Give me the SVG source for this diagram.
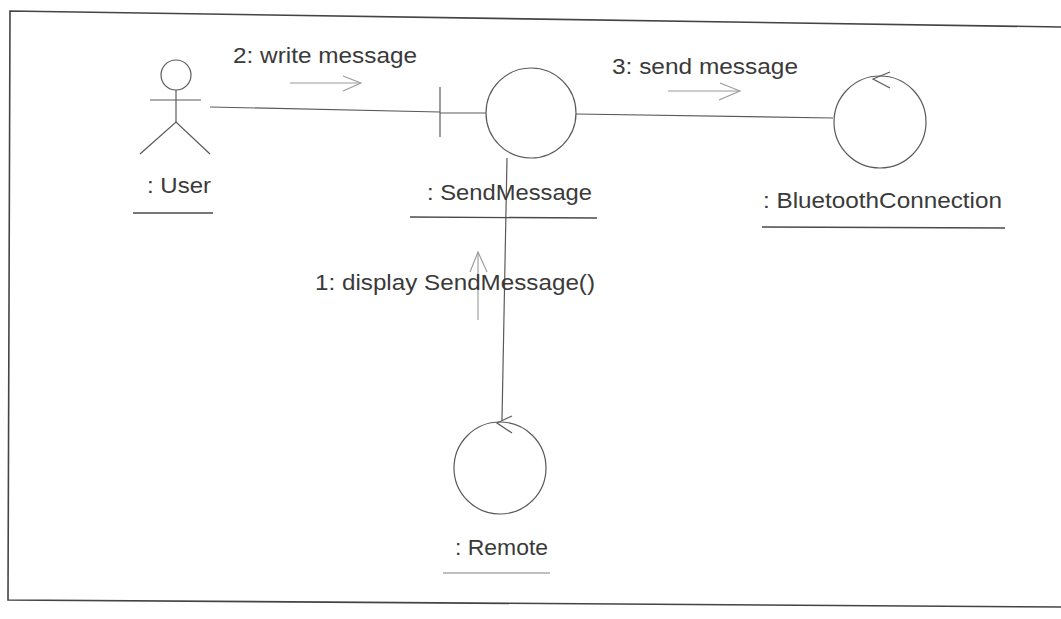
<svg xmlns="http://www.w3.org/2000/svg" width="1061" height="619" viewBox="0 0 1061 619">
<style>
.ln{fill:none;stroke:#5a5a5a;stroke-width:1.2}
.fr{fill:none;stroke:#444;stroke-width:1.6}
.msg{fill:none;stroke:#999;stroke-width:1.1}
.t{font-family:"Liberation Sans",Arial,sans-serif;font-size:22px;fill:#3a3a3a}
.ul{stroke:#4a4a4a;stroke-width:1.3}
</style>
<rect width="1061" height="619" fill="#fff"/>
<g id="frame">
<polyline class="fr" points="1061,27 10,11 8,600 1061,607"/>
</g>
<g id="connectors">
<line class="ln" x1="210" y1="107" x2="440" y2="112"/>
<line class="ln" x1="576" y1="114" x2="833" y2="118"/>
<line class="ln" x1="507" y1="158" x2="502" y2="420"/>
<g id="msg2">
<line class="msg" x1="290" y1="83" x2="360" y2="83"/>
<polyline class="msg" points="343,76 361,83 343,91"/>
<text class="t" x="233" y="63" textLength="184" lengthAdjust="spacingAndGlyphs" fill="#4a4a4a">2: write message</text>
</g>
<g id="msg3">
<line class="msg" x1="668" y1="91" x2="740" y2="91"/>
<polyline class="msg" points="720,83 740,91 719,100"/>
<text class="t" x="612" y="74" textLength="186" lengthAdjust="spacingAndGlyphs" fill="#4a4a4a">3: send message</text>
</g>
<g id="msg1">
<line class="msg" x1="478" y1="320" x2="478" y2="252"/>
<polyline class="msg" points="470,272 478,252 487,272"/>
<text class="t" x="315" y="290" textLength="280" lengthAdjust="spacingAndGlyphs">1: display SendMessage()</text>
</g>
</g>
<g id="user">
<circle class="ln" cx="176" cy="75" r="15"/>
<line class="ln" x1="150" y1="100" x2="201" y2="100"/>
<line class="ln" x1="176" y1="90" x2="176" y2="122"/>
<polyline class="ln" points="140,154 176,122 210,154"/>
<text class="t" x="147" y="193" textLength="64" lengthAdjust="spacingAndGlyphs">: User</text>
<line class="ul" x1="133" y1="213" x2="213" y2="213"/>
</g>
<g id="sendmessage">
<line class="ln" x1="440" y1="87" x2="440" y2="137"/>
<line class="ln" x1="440" y1="113" x2="486" y2="113"/>
<circle class="ln" cx="531" cy="113" r="45"/>
<text class="t" x="427" y="200" textLength="165" lengthAdjust="spacingAndGlyphs">: SendMessage</text>
<line class="ul" x1="410" y1="217" x2="597" y2="218"/>
</g>
<g id="bluetooth">
<circle class="ln" cx="880" cy="122" r="46"/>
<polyline class="ln" points="890,72 873,79 890,88"/>
<text class="t" x="763" y="208" textLength="239" lengthAdjust="spacingAndGlyphs">: BluetoothConnection</text>
<line class="ul" x1="762" y1="227" x2="1005" y2="228"/>
</g>
<g id="remote">
<circle class="ln" cx="500" cy="468" r="46"/>
<polyline class="ln" points="512,416 497,423 512,433"/>
<text class="t" x="455" y="555" textLength="93" lengthAdjust="spacingAndGlyphs" fill="#666">: Remote</text>
<line x1="443" y1="573" x2="550" y2="573" stroke="#aaa" stroke-width="1.4"/>
</g>
</svg>
